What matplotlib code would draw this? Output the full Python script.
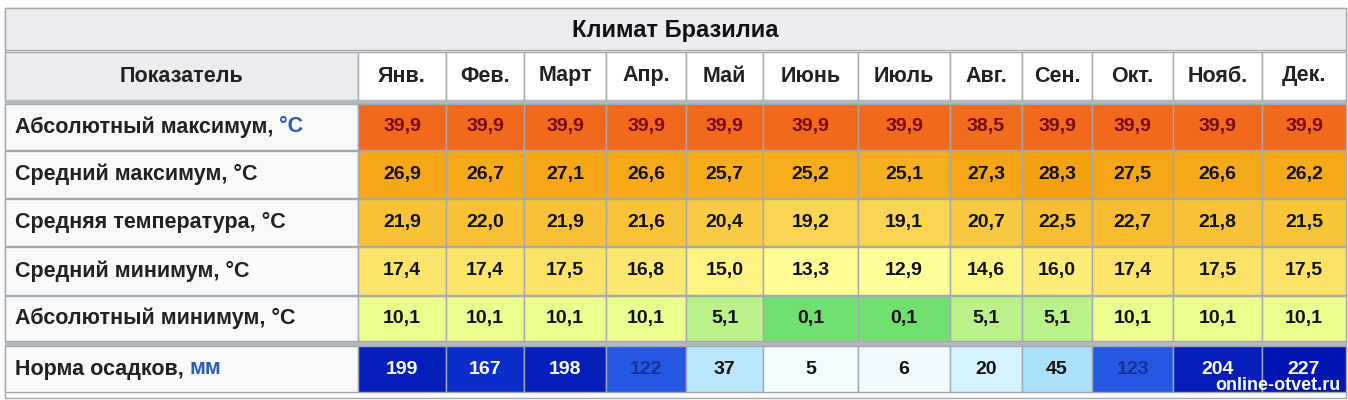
import matplotlib
matplotlib.use("Agg")
import matplotlib.pyplot as plt
import numpy as np
from matplotlib.colors import LinearSegmentedColormap, Normalize

title = "Климат Бразилиа"
header0 = "Показатель"
months = ["Янв.", "Фев.", "Март", "Апр.", "Май", "Июнь", "Июль", "Авг.", "Сен.", "Окт.", "Нояб.", "Дек."]
row_labels = ["Абсолютный максимум, ", "Средний максимум, °C", "Средняя температура, °C",
              "Средний минимум, °C", "Абсолютный минимум, °C", "Норма осадков, "]
abs_max = [39.9, 39.9, 39.9, 39.9, 39.9, 39.9, 39.9, 38.5, 39.9, 39.9, 39.9, 39.9]
avg_max = [26.9, 26.7, 27.1, 26.6, 25.7, 25.2, 25.1, 27.3, 28.3, 27.5, 26.6, 26.2]
avg_temp = [21.9, 22.0, 21.9, 21.6, 20.4, 19.2, 19.1, 20.7, 22.5, 22.7, 21.8, 21.5]
avg_min = [17.4, 17.4, 17.5, 16.8, 15.0, 13.3, 12.9, 14.6, 16.0, 17.4, 17.5, 17.5]
abs_min = [10.1, 10.1, 10.1, 10.1, 5.1, 0.1, 0.1, 5.1, 5.1, 10.1, 10.1, 10.1]
precip = [199, 167, 198, 122, 37, 5, 6, 20, 45, 123, 204, 227]

W, H = 1348, 400
fig = plt.figure(figsize=(W/100, H/100), dpi=100)
ax = fig.add_axes([0, 0, 1, 1])
ax.set_xlim(0, W); ax.set_ylim(H, 0); ax.axis("off")
FONT = "Liberation Sans"
FW = "bold"
FS_T, FS_H, FS_L, FS_N = 17, 15.5, 15.5, 14

tcmap = LinearSegmentedColormap.from_list("t", [
    (0.0, "#6fe070"), (0.12, "#b8f088"), (0.22, "#e4fc88"), (0.32, "#ffff9a"),
    (0.42, "#fce870"), (0.52, "#f9c840"), (0.62, "#f6b020"), (0.72, "#f5a010"),
    (0.85, "#f37a20"), (1.0, "#f2681c")])
tnorm = Normalize(0, 40)
pcmap = LinearSegmentedColormap.from_list("p", [
    (0.0, "#f8feff"), (0.1, "#d0f2ff"), (0.2, "#a8e0f8"), (0.45, "#3a78ec"),
    (0.55, "#2050e0"), (0.75, "#0a28c8"), (1.0, "#0014b0")])
pnorm = Normalize(0, 230)

xb = [5, 358, 446, 524, 606, 686, 763, 858, 950, 1022, 1092, 1173, 1262, 1346]
yb_title = (8, 50)
rows_y = [(104, 150), (151, 198), (199, 246), (247, 295), (296, 341), (346, 392)]
border = "#a2a9b1"

ax.add_patch(plt.Rectangle((xb[0], 8), xb[-1]-xb[0], 390, fc="#f8f9fa", ec=border, lw=1))
ax.add_patch(plt.Rectangle((xb[0], yb_title[0]), xb[-1]-xb[0], yb_title[1]-yb_title[0], fc="#eaecf0", ec=border, lw=1))
ax.text((xb[0]+xb[-1])/2, 30, title, ha="center", va="center", fontsize=FS_T, fontweight="bold", family=FONT, color="#111")
ax.add_patch(plt.Rectangle((xb[0], 52), xb[1]-xb[0], 48, fc="#eaecf0", ec=border, lw=1))
ax.text((xb[0]+xb[1])/2, 76, header0, ha="center", va="center", fontsize=FS_H, fontweight=FW, family=FONT, color="#222")
for i, m in enumerate(months):
    ax.add_patch(plt.Rectangle((xb[i+1], 52), xb[i+2]-xb[i+1], 48, fc="white", ec=border, lw=1))
    ax.text((xb[i+1]+xb[i+2])/2, 76, m, ha="center", va="center", fontsize=FS_H, fontweight=FW, family=FONT, color="#222")
ax.add_patch(plt.Rectangle((xb[0], 100), xb[-1]-xb[0], 4, fc="#b4b8bd", ec="none"))
ax.add_patch(plt.Rectangle((xb[0], 341), xb[-1]-xb[0], 5, fc="#b4b8bd", ec="none"))

data = [abs_max, avg_max, avg_temp, avg_min, abs_min, precip]
for r, (vals, (y0, y1)) in enumerate(zip(data, rows_y)):
    ym = (y0+y1)/2
    ax.add_patch(plt.Rectangle((xb[0], y0), xb[1]-xb[0], y1-y0, fc="#f8f9fa", ec=border, lw=1))
    t = ax.text(xb[0]+10, ym, row_labels[r], ha="left", va="center", fontsize=FS_L, fontweight=FW, family=FONT, color="#222")
    if r in (0, 5):
        fig.canvas.draw()
        bb = t.get_window_extent().transformed(ax.transData.inverted())
        ax.text(bb.x1, ym, "°C" if r == 0 else "мм", ha="left", va="center", fontsize=FS_L, fontweight=FW, family=FONT, color="#2a5bb5")
    for i, v in enumerate(vals):
        if r == 5:
            fc = pcmap(pnorm(v))
            tc = "white" if v > 150 else ("#1a2fa0" if v > 100 else "#111")
            s = str(v)
        else:
            fc = tcmap(tnorm(v))
            tc = "#7a0a0a" if r == 0 else "#111"
            s = f"{v:.1f}".replace(".", ",")
        ax.add_patch(plt.Rectangle((xb[i+1], y0), xb[i+2]-xb[i+1], y1-y0, fc=fc, ec=border, lw=1))
        ax.text((xb[i+1]+xb[i+2])/2, ym, s, ha="center", va="center", fontsize=FS_N, fontweight=FW, family=FONT, color=tc)

ax.text(1340, 386, "online-otvet.ru", ha="right", va="center", fontsize=13, fontweight=FW, family=FONT, color="white")
fig.savefig("out.png", dpi=100)
